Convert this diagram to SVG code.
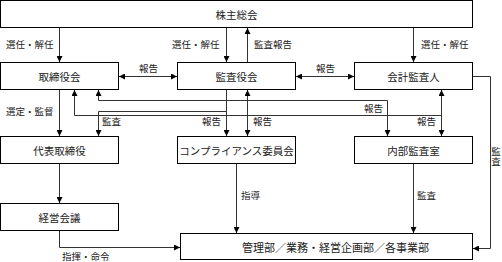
<svg xmlns="http://www.w3.org/2000/svg" width="502" height="262" viewBox="0 0 502 262">
<style>
  .box { fill: #ffffff; stroke: #000000; stroke-width: 1; }
  .bt { font-family: "Noto Sans CJK JP", "Noto Sans", sans-serif; font-size: 10.5px; fill: #222; text-anchor: middle; dominant-baseline: central; }
  .lb { font-family: "Noto Sans CJK JP", "Noto Sans", sans-serif; font-size: 9.5px; fill: #222; dominant-baseline: central; }
  .vt { font-family: "Noto Sans CJK JP", "Noto Sans", sans-serif; font-size: 9.5px; fill: #222; writing-mode: vertical-rl; }
  .cn { fill: none; stroke: #333; stroke-width: 1; }
  .ar { marker-end: url(#ah); }
  .ar2 { marker-start: url(#ah); marker-end: url(#ah); }
</style>
<defs>
  <marker id="ah" viewBox="0 0 6 6" markerWidth="6" markerHeight="6" refX="6" refY="3" orient="auto-start-reverse" markerUnits="userSpaceOnUse">
    <path d="M0,0 L6,3 L0,6 z" fill="#000"/>
  </marker>
</defs>
<rect width="502" height="262" fill="#ffffff"/>

<g id="connectors">
  <path class="cn ar" d="M59.5,28 V62"/>
  <path class="cn ar" d="M226.5,28 V62"/>
  <path class="cn ar" d="M247.5,62 V28"/>
  <path class="cn ar" d="M413.5,28 V62"/>
  <path class="cn ar2" d="M119,76.5 H177"/>
  <path class="cn ar2" d="M296,76.5 H354"/>
  <path class="cn ar" d="M473,76.5 H490.5 V248.5 H473"/>
  <path class="cn ar" d="M59.5,90 V136"/>
  <path class="cn ar" d="M59.5,164 V203"/>
  <path class="cn ar" d="M59.5,231 V247.5 H180"/>
  <path class="cn ar" d="M236.5,164 V233"/>
  <path class="cn ar" d="M413.5,164 V233"/>
  <path class="cn ar" d="M226.5,90 V136"/>
  <path class="cn ar" d="M226.5,111.5 H98.5 V136"/>
  <path class="cn ar2" d="M247.5,90 V136"/>
  <path class="cn ar" d="M74.5,115.5 V90"/>
  <path class="cn" d="M74.5,115.5 H441.5"/>
  <path class="cn ar2" d="M441.5,90 V136"/>
  <path class="cn ar" d="M98.5,100.5 V90"/>
  <path class="cn ar" d="M98.5,100.5 H387.5 V136"/>

  <text class="lb" x="6" y="44">選任・解任</text>
  <text class="lb" x="172" y="44">選任・解任</text>
  <text class="lb" x="254" y="44">監査報告</text>
  <text class="lb" x="421" y="44">選任・解任</text>
  <text class="lb" x="139" y="68">報告</text>
  <text class="lb" x="316" y="68">報告</text>
  <text class="lb" x="6" y="111">選定・監督</text>
  <text class="lb" x="102" y="121">監査</text>
  <text class="lb" x="202" y="121">報告</text>
  <text class="lb" x="253" y="121">報告</text>
  <text class="lb" x="364" y="108">報告</text>
  <text class="lb" x="417" y="121">報告</text>
  <text class="lb" x="241" y="195">指導</text>
  <text class="lb" x="417" y="195">監査</text>
  <text class="vt" x="496" y="147">監査</text>
  <text class="lb" x="62" y="255.5">指揮・命令</text>
</g>

<g id="shareholders">
  <rect class="box" x="0.5" y="0.5" width="472" height="27"/>
  <text class="bt" x="236.5" y="14">株主総会</text>
</g>
<g id="board">
  <rect class="box" x="0.5" y="62.5" width="118" height="27"/>
  <text class="bt" x="59.5" y="76">取締役会</text>
</g>
<g id="auditors">
  <rect class="box" x="177.5" y="62.5" width="118" height="27"/>
  <text class="bt" x="236.5" y="76">監査役会</text>
</g>
<g id="accounting-auditor">
  <rect class="box" x="354.5" y="62.5" width="118" height="27"/>
  <text class="bt" x="413.5" y="76">会計監査人</text>
</g>
<g id="representative">
  <rect class="box" x="0.5" y="136.5" width="118" height="27"/>
  <text class="bt" x="59.5" y="150">代表取締役</text>
</g>
<g id="compliance">
  <rect class="box" x="177.5" y="136.5" width="118" height="27"/>
  <text class="bt" x="236.5" y="150">コンプライアンス委員会</text>
</g>
<g id="internal-audit">
  <rect class="box" x="354.5" y="136.5" width="118" height="27"/>
  <text class="bt" x="413.5" y="150">内部監査室</text>
</g>
<g id="management-meeting">
  <rect class="box" x="0.5" y="203.5" width="118" height="27"/>
  <text class="bt" x="59.5" y="217">経営会議</text>
</g>
<g id="departments">
  <rect class="box" x="180.5" y="233.5" width="292" height="26"/>
  <text class="bt" x="335.5" y="247" style="font-size:11px">管理部／業務・経営企画部／各事業部</text>
</g>
</svg>
